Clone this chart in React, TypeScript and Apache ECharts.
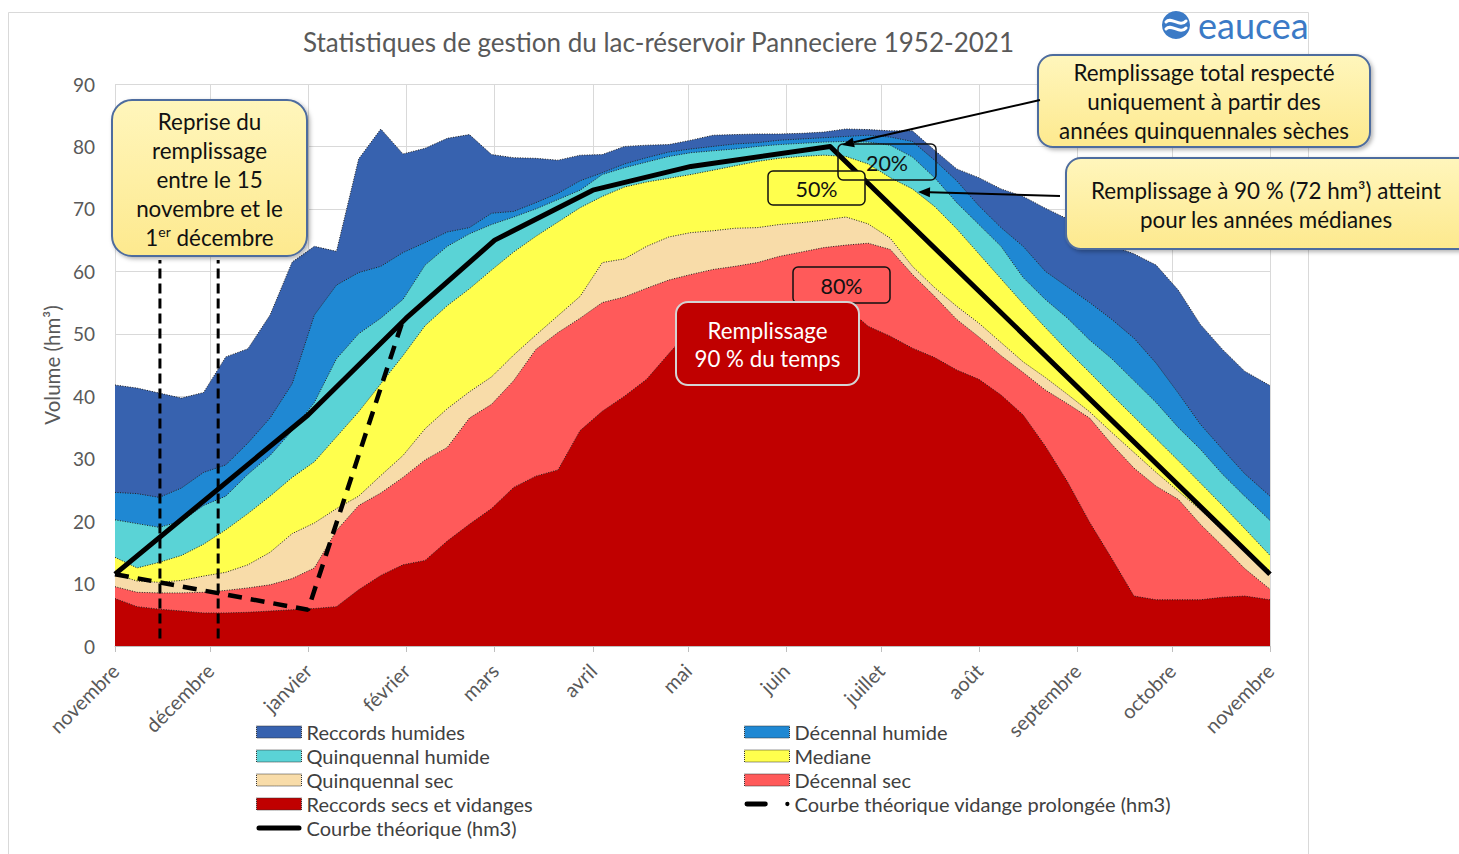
import React, { useEffect, useRef } from "react";
import * as echarts from "echarts";

// ---- data (days counted from 1 November) ----
const days = [0, 7, 14, 21, 28, 35, 42, 49, 56, 63, 70, 77, 84, 91, 98, 105, 112, 119, 126, 133, 140, 147, 154, 161, 168, 175, 182, 189, 196, 203, 210, 217, 224, 231, 238, 245, 252, 259, 266, 273, 280, 287, 294, 301, 308, 315, 322, 329, 336, 343, 350, 357, 365];

const reccordsHumides = [41.8, 41.3, 40.5, 39.7, 40.6, 46.3, 47.6, 53, 61.5, 64, 63.2, 78, 82.8, 78.8, 79.7, 81.3, 81.9, 78.7, 78.2, 78.1, 77.8, 78.6, 78.7, 80, 80.2, 80.3, 81, 81.8, 81.9, 82, 82, 82.1, 82.3, 82.8, 82.7, 82.5, 82.5, 79.4, 76.4, 75, 73.2, 72, 70.1, 68.4, 66.3, 64.1, 62.8, 61, 57, 51.5, 47.5, 44, 41.7];
const decennalHumide = [24.6, 24.4, 23.8, 25.3, 27.8, 29, 32.5, 36.5, 42, 53, 57.8, 59.8, 60.8, 63, 64.6, 66.3, 67, 69.3, 69.6, 71, 72.5, 74.5, 75.8, 77.2, 78.2, 79.1, 79.6, 80, 80.4, 80.6, 81, 81.2, 81.4, 81.6, 81.8, 81.5, 80.8, 77.8, 74.5, 70.5, 67, 64, 60, 57.5, 55, 52.3, 49.3, 45.3, 40.5, 35.5, 31.5, 27.6, 24];
const quinquennalHumide = [20.2, 19.6, 19.0, 20, 22.5, 24, 27.5, 30.5, 34.5, 39, 46, 50, 52.5, 55.5, 61, 64, 66, 67.5, 68.7, 70, 71.5, 73, 75.5, 76.6, 77.5, 78.4, 79, 79.3, 79.6, 80, 80.3, 80.5, 80.7, 80.8, 80.7, 80.2, 78.3, 75, 71, 67.5, 64, 59, 55.5, 52.5, 49, 46, 42.5, 39, 35, 31.5, 27.5, 24, 20.1];
const mediane = [14.2, 12.5, 13.4, 14.5, 16.3, 18.6, 21.2, 24, 27, 29.5, 33.5, 37.5, 42, 46.5, 51.3, 54.5, 57.2, 60.2, 63.1, 65.6, 67.9, 70.2, 72, 73.5, 74.3, 74.9, 75.5, 76.2, 76.9, 77.6, 78.1, 78.4, 78.6, 78.4, 77.2, 75, 73.2, 70.4, 66.8, 62.8, 58.8, 54.8, 51, 47.3, 43.8, 40.2, 36.7, 33.2, 29.7, 26.1, 22.5, 18.8, 14.5];
const quinquennalSec = [11.5, 10.4, 10.2, 10.5, 11.2, 11.8, 13, 15, 18, 19.7, 22, 24, 27.3, 30.5, 34.8, 38, 40.7, 43.1, 46.6, 49.8, 52.9, 56, 61.4, 62, 64, 65.5, 66.2, 66.5, 66.9, 67, 67.5, 67.8, 68.2, 68.7, 67.6, 65.3, 60.8, 57.4, 54.4, 51.7, 48.6, 45.5, 43, 40.3, 37.5, 34.2, 31, 27.8, 24.8, 21.8, 18.5, 15.3, 12];
const decennalSec = [9.5, 8.6, 8.5, 8.5, 8.6, 8.9, 9.3, 9.8, 10.8, 12.5, 18.5, 22.5, 24.5, 27, 29.8, 31.8, 36.5, 38.7, 42.5, 47.5, 50.2, 52.5, 55, 55.9, 57.3, 58.6, 59.5, 60.3, 60.8, 61.4, 62.4, 63.1, 63.8, 64.2, 64.5, 63.5, 59.5, 56, 52.3, 49.5, 46.5, 43.8, 41, 38.8, 36.5, 32.3, 28.5, 25.6, 23.5, 19.5, 16, 12.4, 9.1];
const reccordsSecs = [7.6, 6.3, 5.9, 5.6, 5.3, 5.3, 5.4, 5.6, 5.8, 6, 6.3, 9, 11.3, 13, 13.7, 16.8, 19.5, 22, 25.4, 27.2, 28.2, 34.5, 37.6, 40, 42.7, 46.8, 50.8, 53.3, 54, 54.5, 54.7, 54.8, 54.6, 54.3, 51.2, 49.6, 47.7, 46.2, 44.2, 42.7, 40.2, 37, 32, 26.3, 19.8, 14, 8, 7.4, 7.4, 7.4, 7.8, 8, 7.4];

const theoDays = [0, 61, 92, 120, 151, 182, 226, 365];
const theoVals = [11.5, 37, 52.5, 65, 73, 76.8, 80, 11.5];
const prolDays = [0, 61, 91];
const prolVals = [11.5, 5.8, 52.2];

const reprise15Nov = 14.2;
const reprise1Dec = 32.6;
const repriseRange = [1.2, 61.8];

const monthDays = [0, 30, 61, 92, 120, 151, 181, 212, 242, 273, 304, 334, 365];
const monthLabels = ["novembre", "décembre", "janvier", "février", "mars", "avril", "mai", "juin", "juillet", "août", "septembre", "octobre", "novembre"];

const FONT = "Lato, 'Open Sans', sans-serif";
const NOTE_SIZE = 22.4;

const areaDefs = [
  { name: "Reccords humides", data: reccordsHumides, color: "#3762AF" },
  { name: "Décennal humide", data: decennalHumide, color: "#1F88D3" },
  { name: "Quinquennal humide", data: quinquennalHumide, color: "#5AD3D6" },
  { name: "Mediane", data: mediane, color: "#FFFF4D" },
  { name: "Quinquennal sec", data: quinquennalSec, color: "#F8DCA9" },
  { name: "Décennal sec", data: decennalSec, color: "#FF5A5A" },
  { name: "Reccords secs et vidanges", data: reccordsSecs, color: "#C00000" },
];

function arrow(x1: number, y1: number, x2: number, y2: number) {
  const dx = x2 - x1, dy = y2 - y1;
  const L = Math.hypot(dx, dy);
  const ux = dx / L, uy = dy / L;
  const hl = 12, hw = 5;
  const bx = x2 - ux * hl, by = y2 - uy * hl;
  return [
    { type: "line", z: 110, shape: { x1, y1, x2: bx, y2: by }, style: { stroke: "#000", lineWidth: 2 } },
    { type: "polygon", z: 110, shape: { points: [[x2, y2], [bx - uy * hw, by + ux * hw], [bx + uy * hw, by - ux * hw]] }, style: { fill: "#000" } },
  ];
}

const yellowFill = {
  type: "linear", x: 0, y: 0, x2: 0, y2: 1,
  colorStops: [{ offset: 0, color: "#FFF6BC" }, { offset: 1, color: "#FDE98E" }],
};

function noteBox(x: number, y: number, w: number, h: number, r: number) {
  return {
    type: "rect", z: 100,
    shape: { x, y, width: w, height: h, r },
    style: { fill: yellowFill, stroke: "#4E6C9E", lineWidth: 2, shadowBlur: 4, shadowOffsetX: 2, shadowOffsetY: 2, shadowColor: "rgba(0,0,0,0.3)" },
  };
}

function noteText(x: number, y: number, text: string, extra: any = {}) {
  return {
    type: "text", z: 101, x, y,
    style: { text, fill: "#111", font: `${NOTE_SIZE}px ${FONT}`, textAlign: "center", textVerticalAlign: "middle", lineHeight: 29, ...extra },
  };
}

function pctBox(x: number, y: number, w: number, h: number, fill: string, label: string) {
  return [
    { type: "rect", z: 100, shape: { x, y, width: w, height: h, r: 5 }, style: { fill, stroke: "#111", lineWidth: 1.5 } },
    { type: "text", z: 101, x: x + w / 2, y: y + h / 2 + 1, style: { text: label, fill: "#111", font: `21.5px ${FONT}`, textAlign: "center", textVerticalAlign: "middle" } },
  ];
}

const solidIcon = "path://M0,0h0.1v0.1h-0.1z M2.5,3.5h40a2.5,2.5 0 0 1 0,5h-40a2.5,2.5 0 0 1 0,-5z M44.9,11.9h0.1v0.1h-0.1z";
const dashIcon = "path://M0,0h0.1v0.1h-0.1z M2.5,3.5h19a2.5,2.5 0 0 1 0,5h-19a2.5,2.5 0 0 1 0,-5z M42,6a2.2,2.2 0 1 0 4.4,0a2.2,2.2 0 1 0 -4.4,0z M46.3,11.9h0.1v0.1h-0.1z";

export default function App() {
  const ref = useRef<HTMLDivElement>(null);
  useEffect(() => {
    if (!ref.current) return;
    const chart = echarts.init(ref.current, undefined, { renderer: "svg" });

    const areaSeries = areaDefs.map((s) => ({
      name: s.name,
      type: "line",
      data: days.map((d, i) => [d, s.data[i]]),
      symbol: "none",
      color: s.color,
      lineStyle: { color: "#222", width: 1, type: [1, 1.5] },
      areaStyle: { color: s.color, opacity: 1 },
      z: 2,
    }));

    const legendItem = (name: string, color: string) => ({
      name, icon: "rect",
      itemStyle: { color, borderColor: "#333", borderWidth: 1, borderType: "dotted" },
    });

    const legendBase = {
      orient: "vertical", top: 722, itemWidth: 45, itemHeight: 12, itemGap: 4, padding: 0, selectedMode: false,
      textStyle: { fontSize: 20, color: "#404040", fontFamily: FONT },
    };

    const option: any = {
      animation: false,
      backgroundColor: "#ffffff",
      textStyle: { fontFamily: FONT },
      title: {
        text: "Statistiques de gestion du lac-réservoir Panneciere 1952-2021",
        left: 303, top: 29, padding: 0,
        textStyle: { fontSize: 26, fontWeight: "normal", color: "#595959", fontFamily: FONT },
      },
      grid: { left: 115, right: 189, top: 84, bottom: 208, containLabel: false },
      xAxis: {
        type: "value", min: 0, max: 365,
        axisLine: { show: true, lineStyle: { color: "#bfbfbf", width: 1 } },
        axisTick: { show: true, customValues: monthDays, length: 6, lineStyle: { color: "#bfbfbf" } },
        axisLabel: {
          customValues: monthDays, rotate: 45, margin: 21, fontSize: 20, color: "#595959", fontFamily: FONT,
          formatter: (v: number) => { const i = monthDays.indexOf(Math.round(v)); return i >= 0 ? monthLabels[i] : ""; },
        },
        splitLine: { show: true, lineStyle: { color: "#d9d9d9", width: 1 } },
      },
      yAxis: {
        type: "value", min: 0, max: 90, interval: 10,
        name: "Volume (hm³)", nameLocation: "middle", nameGap: 47,
        nameTextStyle: { fontSize: 20.5, color: "#595959", fontFamily: FONT },
        axisLine: { show: false }, axisTick: { show: false },
        axisLabel: { fontSize: 19, color: "#595959", margin: 20, fontFamily: FONT },
        splitLine: { show: true, lineStyle: { color: "#d9d9d9", width: 1 } },
      },
      legend: [
        {
          ...legendBase, left: 256,
          data: [
            legendItem("Reccords humides", "#3762AF"),
            legendItem("Quinquennal humide", "#5AD3D6"),
            legendItem("Quinquennal sec", "#F8DCA9"),
            legendItem("Reccords secs et vidanges", "#C00000"),
            { name: "Courbe théorique (hm3)", icon: solidIcon, itemStyle: { color: "#000" } },
          ],
        },
        {
          ...legendBase, left: 744,
          data: [
            legendItem("Décennal humide", "#1F88D3"),
            legendItem("Mediane", "#FFFF4D"),
            legendItem("Décennal sec", "#FF5A5A"),
            { name: "Courbe théorique vidange prolongée (hm3)", icon: dashIcon, itemStyle: { color: "#000" } },
          ],
        },
      ],
      series: [
        ...areaSeries,
        {
          name: "Courbe théorique (hm3)", type: "line", symbol: "none", color: "#000", z: 5,
          data: theoDays.map((d, i) => [d, theoVals[i]]),
          lineStyle: { color: "#000", width: 5, join: "round" },
        },
        {
          name: "Courbe théorique vidange prolongée (hm3)", type: "line", symbol: "none", color: "#000", z: 5,
          data: prolDays.map((d, i) => [d, prolVals[i]]),
          lineStyle: { color: "#000", width: 4.5, type: [14, 9] },
        },
        {
          name: "reprise-15", type: "line", symbol: "none", z: 6,
          data: [[reprise15Nov, repriseRange[0]], [reprise15Nov, repriseRange[1]]],
          lineStyle: { color: "#000", width: 3, type: [10, 5] },
        },
        {
          name: "reprise-1", type: "line", symbol: "none", z: 6,
          data: [[reprise1Dec, repriseRange[0]], [reprise1Dec, repriseRange[1]]],
          lineStyle: { color: "#000", width: 3, type: [10, 5] },
        },
      ],
      graphic: [
        { type: "rect", z: -1, shape: { x: 8.5, y: 12.5, width: 1300, height: 860 }, style: { fill: "none", stroke: "#d9d9d9", lineWidth: 1 } },
        // logo
        { type: "circle", z: 100, shape: { cx: 1176, cy: 25, r: 14 }, style: { fill: "#3B7AC6" } },
        { type: "bezierCurve", z: 101, shape: { x1: 1166, y1: 22, cpx1: 1171, cpy1: 16, cpx2: 1180, cpy2: 28, x2: 1186, y2: 21 }, style: { stroke: "#fff", lineWidth: 3, fill: "none", lineCap: "round" } },
        { type: "bezierCurve", z: 101, shape: { x1: 1166, y1: 29, cpx1: 1171, cpy1: 23, cpx2: 1180, cpy2: 35, x2: 1186, y2: 28 }, style: { stroke: "#fff", lineWidth: 3, fill: "none", lineCap: "round" } },
        { type: "text", z: 101, x: 1198, y: 25, style: { text: "eaucea", fill: "#3B7AC6", font: `36px ${FONT}`, textVerticalAlign: "middle" } },
        // left note
        noteBox(112, 100, 195, 156, 20),
        noteText(209.5, 179, "Reprise du\nremplissage\nentre le 15\nnovembre et le\n{n|1}{s|er}{n| décembre}", {
          rich: { n: { fontSize: NOTE_SIZE, fontFamily: FONT, lineHeight: 29, fill: "#111" }, s: { fontSize: 14, fontFamily: FONT, lineHeight: 29, verticalAlign: "top", padding: [2, 0, 0, 0], fill: "#111" } },
        }),
        // top-right notes
        noteBox(1038, 55, 332, 92, 15),
        noteText(1204, 101.5, "Remplissage total respecté\nuniquement à partir des\nannées quinquennales sèches"),
        noteBox(1066, 158, 410, 91, 15),
        noteText(1266, 205, "Remplissage à 90 % (72 hm³) atteint\npour les années médianes"),
        ...arrow(1040, 100, 842, 145),
        ...arrow(1060, 196, 918, 192),
        // percent boxes
        ...pctBox(768, 171, 97, 34, "#FFFF4D", "50%"),
        ...pctBox(838, 144, 98, 36, "transparent", "20%"),
        ...pctBox(793, 267, 97, 36, "#FF5A5A", "80%"),
        { type: "rect", z: 100, shape: { x: 676, y: 302, width: 183, height: 83, r: 12 }, style: { fill: "#C00000", stroke: "#d4d4d4", lineWidth: 2 } },
        { type: "text", z: 101, x: 767.5, y: 344, style: { text: "Remplissage\n90 % du temps", fill: "#fff", font: `22.3px ${FONT}`, textAlign: "center", textVerticalAlign: "middle", lineHeight: 28 } },
      ],
    };
    chart.setOption(option);
    return () => chart.dispose();
  }, []);
  return <div ref={ref} style={{ position: "fixed", left: 0, top: 0, width: 1459, height: 854, background: "#fff" }} />;
}
